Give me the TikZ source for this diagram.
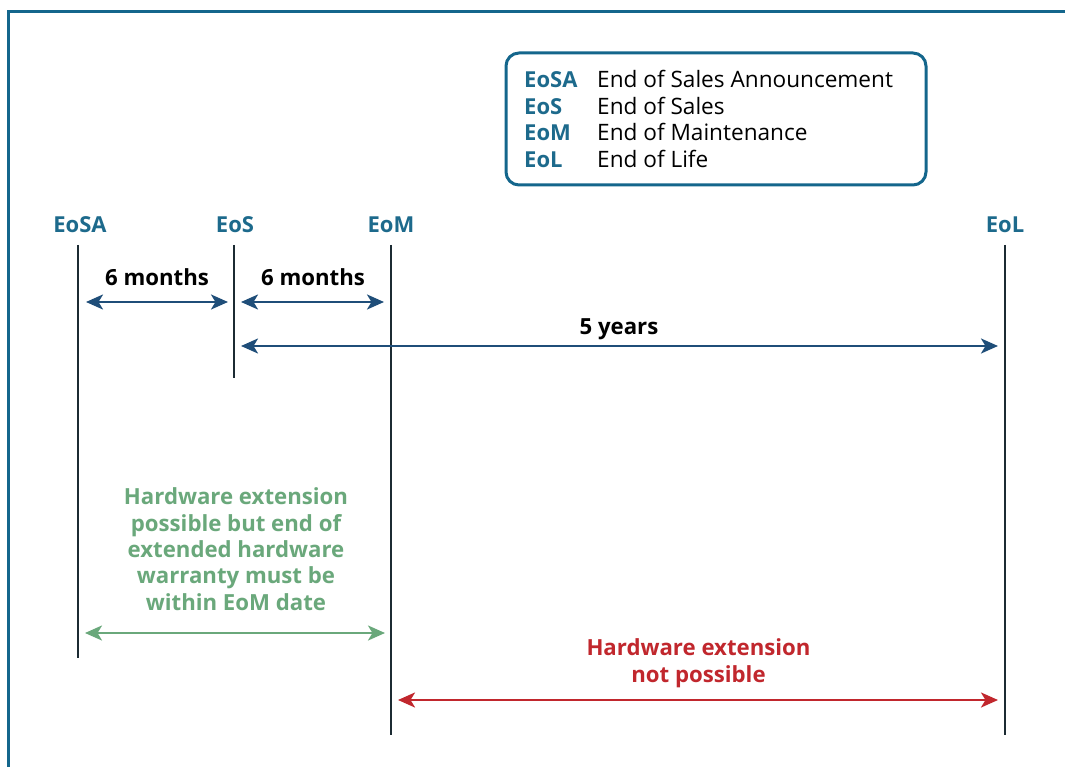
\documentclass[tikz,border=0pt]{standalone}
\usepackage{fontspec}
\setmainfont{Open Sans}
\usetikzlibrary{arrows.meta}
\definecolor{frameblue}{HTML}{14668C}
\definecolor{abbr}{HTML}{1D6A8C}
\definecolor{arrowblue}{HTML}{1F4E79}
\definecolor{vline}{HTML}{1C2B33}
\definecolor{okgreen}{HTML}{6AA87B}
\definecolor{nored}{HTML}{C1272D}
\tikzset{
  txt/.style={font=\fontsize{22.6}{26.5}\selectfont, inner sep=0pt, anchor=base west},
  head/.style={inner sep=0pt, font=\fontsize{22}{26.5}\selectfont\bfseries, text=abbr},
  lab/.style={inner sep=0pt, anchor=base, font=\fontsize{22.2}{26.3}\selectfont\bfseries, text=black},
  mark line/.style={draw=vline, line width=2.7pt},
  span/.style={line width=2.5pt, {Stealth[length=17pt,width=15pt,inset=4.5pt]}-{Stealth[length=17pt,width=15pt,inset=4.5pt]}},
}
\begin{document}
\begin{tikzpicture}[x=1pt,y=-1pt]
\useasboundingbox (0,0) rectangle (1065,767);
\fill[white] (0,0) rectangle (1065,767);
% frame (top and left edges visible)
\draw[frameblue, line width=3pt] (8.5,770) -- (8.5,11.5) -- (1070,11.5);
% legend
\node[draw=frameblue, line width=3pt, rounded corners=13pt, minimum width=420pt, minimum height=132pt, inner sep=0pt] (legend) at (716,119) {};
\node[head, anchor=base west] (lgA) at (524,88) {EoSA};
\node[head, anchor=base west] (lgB) at (524,114.5) {EoS};
\node[head, anchor=base west] (lgC) at (524,141) {EoM};
\node[head, anchor=base west] (lgD) at (524,167.5) {EoL};
\node[txt] (ldA) at (597,88) {End of Sales Announcement};
\node[txt] (ldB) at (597,114.5) {End of Sales};
\node[txt] (ldC) at (597,141) {End of Maintenance};
\node[txt] (ldD) at (597,167.5) {End of Life};
% headings
\node[head, anchor=base] (hA) at (80,233) {EoSA};
\node[head, anchor=base] (hB) at (235,233) {EoS};
\node[head, anchor=base] (hC) at (391,233) {EoM};
\node[head, anchor=base] (hD) at (1005,233) {EoL};
% vertical marker lines
\coordinate (a0) at (78,245);   \coordinate (a1) at (78,658);
\coordinate (b0) at (234,245);  \coordinate (b1) at (234,378);
\coordinate (c0) at (391,245);  \coordinate (c1) at (391,735);
\coordinate (d0) at (1005,245); \coordinate (d1) at (1005,735);
\draw[mark line] (a0) -- (a1);
\draw[mark line] (b0) -- (b1);
\draw[mark line] (c0) -- (c1);
\draw[mark line] (d0) -- (d1);
% 6 months spans
\coordinate (s1l) at (86,302);  \coordinate (s1r) at (228,302);
\coordinate (s2l) at (241,302); \coordinate (s2r) at (384,302);
\draw[span, arrowblue] (s1l) -- (s1r);
\draw[span, arrowblue] (s2l) -- (s2r);
\node[lab] (m1) at (157,286) {6 months};
\node[lab] (m2) at (313,286) {6 months};
% 5 years
\coordinate (s3l) at (241,346); \coordinate (s3r) at (998,346);
\draw[span, arrowblue] (s3l) -- (s3r);
\node[lab] (y5) at (619,334) {5 years};
% green
\node[lab, text=okgreen, align=center] (gtxt) at (236,610) {Hardware extension\\possible but end of\\extended hardware\\warranty must be\\within EoM date};
\coordinate (g0) at (85,633); \coordinate (g1) at (385,633);
\draw[span, okgreen] (g0) -- (g1);
% red
\node[lab, text=nored, align=center] (rtxt) at (698.5,682) {Hardware extension\\not possible};
\coordinate (r0) at (398,700); \coordinate (r1) at (998,700);
\draw[span, nored] (r0) -- (r1);
\end{tikzpicture}
\end{document}
